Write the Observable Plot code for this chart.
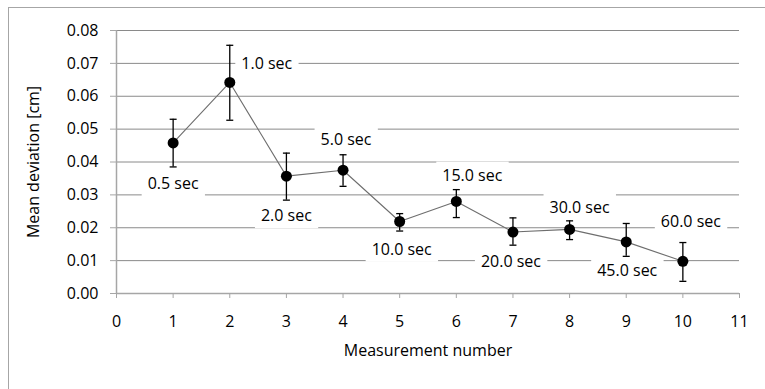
<!DOCTYPE html>
<html>
<head>
<meta charset="utf-8">
<script src="https://cdn.jsdelivr.net/npm/d3@7"></script>
<script src="https://cdn.jsdelivr.net/npm/@observablehq/plot@0.6"></script>
<style>
  html, body { margin: 0; padding: 0; background: #fff; }
  #wrap { position: relative; width: 765px; height: 389px; overflow: hidden; }
  #border { position: absolute; left: 8px; top: 7px; width: 800px; height: 400px;
            border-top: 1px solid #a6a6a6; border-left: 1px solid #a6a6a6; }
  #chart { position: absolute; left: 0; top: 0; }
</style>
</head>
<body>
<div id="wrap"><div id="border"></div><div id="chart"></div></div>
<script>
// ---- data ----
const measurement = [1, 2, 3, 4, 5, 6, 7, 8, 9, 10];
const meanDeviation = [0.0458, 0.0642, 0.0357, 0.0375, 0.0219, 0.0280, 0.0187, 0.0195, 0.0157, 0.0098];
const errUpper = [0.0530, 0.0755, 0.0427, 0.0422, 0.0243, 0.0316, 0.0230, 0.0221, 0.0213, 0.0155];
const errLower = [0.0385, 0.0527, 0.0284, 0.0326, 0.0190, 0.0231, 0.0147, 0.0164, 0.0113, 0.0037];
const pointLabels = ["0.5 sec", "1.0 sec", "2.0 sec", "5.0 sec", "10.0 sec", "15.0 sec", "20.0 sec", "30.0 sec", "45.0 sec", "60.0 sec"];
const xTicks = [0, 1, 2, 3, 4, 5, 6, 7, 8, 9, 10, 11];
const yTicks = [0, 0.01, 0.02, 0.03, 0.04, 0.05, 0.06, 0.07, 0.08];
const xTitle = "Measurement number";
const yTitle = "Mean deviation [cm]";

// label placement relative to each point (pixels)
const labelDx = [0, 37, 0, 3, 2, 16, -2, 10, 1, 8];
const labelDy = [41, -19, 40, -30, 28, -26, 30, -22, 29, -39];

const rows = measurement.map((m, i) => ({
  m, v: meanDeviation[i], hi: errUpper[i], lo: errLower[i], label: pointLabels[i]
}));

const capSymbol = {
  draw(context, size) {
    const w = Math.sqrt(size / Math.PI);
    context.moveTo(-w, 0);
    context.lineTo(w, 0);
  }
};

const gridColor = "#8a8a8a";
const axisColor = "#a6a6a6";

const labelMarks = rows.map((d, i) => Plot.text([d], {
  x: "m", y: "v", text: "label",
  dx: labelDx[i], dy: labelDy[i], lineAnchor: "middle",
  fill: "#000", className: "ptlabel"
}));

const chart = Plot.plot({
  width: 765,
  height: 389,
  marginLeft: 116,
  marginRight: 26,
  marginTop: 30,
  marginBottom: 96,
  style: { fontFamily: "'Open Sans', sans-serif", fontSize: "16px", background: "transparent", color: "#000" },
  x: { domain: [0, 11], ticks: xTicks, label: null },
  y: { domain: [0, 0.08], ticks: yTicks, label: null, tickFormat: d3.format(".2f") },
  marks: [
    Plot.gridY(yTicks.filter(t => t > 0), { stroke: gridColor, strokeOpacity: 1, strokeWidth: 1 }),
    Plot.ruleY([0], { stroke: axisColor, strokeWidth: 1.5 }),
    Plot.ruleX([0], { stroke: axisColor, strokeWidth: 1.5 }),
    Plot.axisX({ ticks: xTicks, tickSize: 5, tickPadding: 17, stroke: axisColor, label: null, tickFormat: d3.format("d") }),
    Plot.axisY({ ticks: yTicks, tickSize: 6, tickPadding: 12, stroke: axisColor, label: null, tickFormat: d3.format(".2f") }),
    ...labelMarks,
    Plot.line(rows, { x: "m", y: "v", stroke: "#6e6e6e", strokeWidth: 1.1 }),
    Plot.ruleX(rows, { x: "m", y1: "lo", y2: "hi", stroke: "#000", strokeWidth: 1.3 }),
    Plot.dot(rows, { x: "m", y: "hi", symbol: capSymbol, r: 3.5, stroke: "#000", strokeWidth: 1.3 }),
    Plot.dot(rows, { x: "m", y: "lo", symbol: capSymbol, r: 3.5, stroke: "#000", strokeWidth: 1.3 }),
    Plot.dot(rows, { x: "m", y: "v", r: 5.5, fill: "#000", stroke: "none" }),
    Plot.text([xTitle], { frameAnchor: "bottom", dy: 57, lineAnchor: "middle", textAnchor: "middle", text: d => d, fill: "#000" }),
    Plot.text([yTitle], { frameAnchor: "left", dx: -83, rotate: -90, lineAnchor: "middle", textAnchor: "middle", text: d => d, fill: "#000" })
  ]
});

document.getElementById("chart").appendChild(chart);

// white boxes behind the point labels (like the spreadsheet label boxes)
chart.querySelectorAll("g.ptlabel text").forEach(t => {
  const b = t.getBBox();
  const cy = b.y + b.height / 2;
  const r = document.createElementNS("http://www.w3.org/2000/svg", "rect");
  r.setAttribute("x", b.x - 6);
  r.setAttribute("y", cy - 13);
  r.setAttribute("width", b.width + 12);
  r.setAttribute("height", 26);
  r.setAttribute("fill", "#fff");
  const tr = t.getAttribute("transform");
  if (tr) r.setAttribute("transform", tr);
  t.parentNode.insertBefore(r, t);
});
</script>
</body>
</html>
